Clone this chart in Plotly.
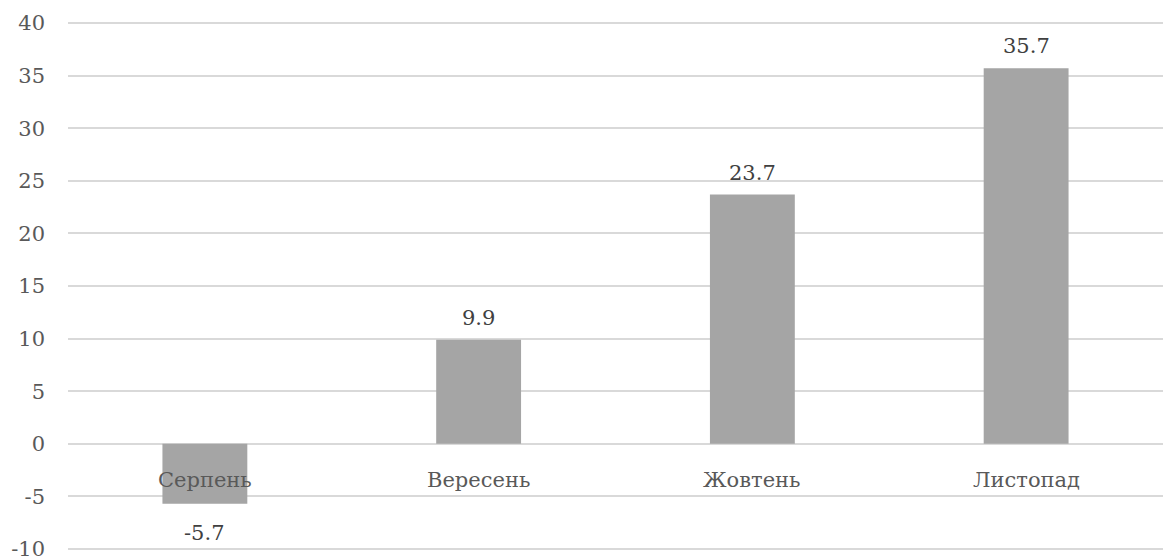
import plotly.graph_objects as go

months = ["Серпень", "Вересень", "Жовтень", "Листопад"]
values = [-5.7, 9.9, 23.7, 35.7]
y_ticks = [-10, -5, 0, 5, 10, 15, 20, 25, 30, 35, 40]

FONT = "DejaVu Serif"
SIZE = 21

fig = go.Figure(
    go.Bar(
        x=months,
        y=values,
        marker=dict(color="#A5A5A5", line=dict(width=0)),
        cliponaxis=False,
        width=0.31,
    )
)

# value labels above positive bars, below negative ones
for m, v in zip(months, values):
    fig.add_annotation(
        x=m, y=v, xref="x", yref="y",
        text=f"{v:.1f}", showarrow=False,
        yanchor="bottom" if v >= 0 else "top",
        yshift=8 if v >= 0 else -15,
        font=dict(family=FONT, size=SIZE, color="#404040"),
    )

# category names sit just under the zero line
for m in months:
    fig.add_annotation(
        x=m, y=0, xref="x", yref="y",
        text=m, showarrow=False,
        yanchor="top", yshift=-22,
        font=dict(family=FONT, size=SIZE, color="#595959"),
    )

fig.update_layout(
    width=1163, height=560,
    margin=dict(l=68, r=0, t=21, b=9),
    plot_bgcolor="white", paper_bgcolor="white",
    showlegend=False,
    bargap=0.69,
    font=dict(family=FONT),
    xaxis=dict(showticklabels=False, showgrid=False, zeroline=False, showline=False),
    yaxis=dict(
        range=[-10.2, 40.2], tickvals=y_ticks, ticktext=[str(t) for t in y_ticks],
        showgrid=True, gridcolor="#D9D9D9", gridwidth=1.5,
        zeroline=True, zerolinecolor="#D9D9D9", zerolinewidth=1.5,
        showline=False, ticks="", ticklabelstandoff=22,
        ticklabeloverflow="allow",
        tickfont=dict(family=FONT, size=SIZE, color="#595959"),
    ),
)

fig.write_html("out.html")
